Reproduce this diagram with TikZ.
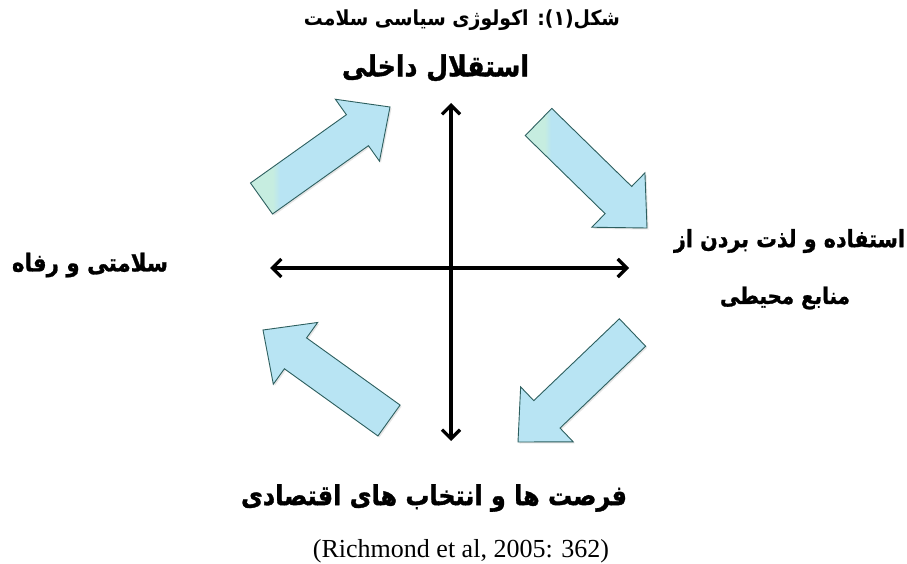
\documentclass[tikz,border=0pt]{standalone}
\usepackage{fontspec}
\usepackage{graphicx}
\setmainfont{Liberation Serif}
\newfontfamily\fa[Script=Arabic]{DejaVu Sans}
\newfontfamily\fab[Script=Arabic,BoldFeatures={FakeBold=1.2}]{DejaVu Sans}
\TeXXeTstate=1
\usetikzlibrary{arrows.meta,calc}
\definecolor{arrfill}{RGB}{184,228,243}
\definecolor{arrmint}{RGB}{198,237,224}
\definecolor{arredge}{RGB}{45,95,95}
\pgfdeclarehorizontalshading{arrshade}{100bp}{color(0bp)=(arrmint); color(33bp)=(arrmint); color(35.5bp)=(arrfill); color(100bp)=(arrfill)}
\newcommand\blockarrow[4]{% style, name, tail, tip
  \coordinate (#2t) at (#3);
  \coordinate (#2p) at (#4);
  \coordinate (#2b) at ($(#2p)!40pt!(#2t)$);
  \fill[black!10] ([shift={(1.5,1.5)}]$(#2t)!19pt!-90:(#2p)$) -- ([shift={(1.5,1.5)}]$(#2b)!19pt!-90:(#2p)$) -- ([shift={(1.5,1.5)}]$(#2b)!38pt!-90:(#2p)$)
    -- ([shift={(1.5,1.5)}]#2p) -- ([shift={(1.5,1.5)}]$(#2b)!38pt!90:(#2p)$) -- ([shift={(1.5,1.5)}]$(#2b)!19pt!90:(#2p)$) -- ([shift={(1.5,1.5)}]$(#2t)!19pt!90:(#2p)$) -- cycle;
  \draw[#1] ($(#2t)!19pt!-90:(#2p)$) -- ($(#2b)!19pt!-90:(#2p)$) -- ($(#2b)!38pt!-90:(#2p)$)
    -- (#2p) -- ($(#2b)!38pt!90:(#2p)$) -- ($(#2b)!19pt!90:(#2p)$) -- ($(#2t)!19pt!90:(#2p)$) -- cycle;
}
\begin{document}
\begin{tikzpicture}[x=1pt,y=-1pt,
  axis/.style={line width=3.2pt, line cap=butt, {Straight Barb[length=9pt,width=18pt]}-{Straight Barb[length=9pt,width=18pt]}},
  lbl/.style={inner sep=0pt},
  blk/.style={draw=arredge, line width=0.9pt, line join=miter, fill=arrfill},
  blkshade/.style={draw=arredge, line width=0.9pt, line join=miter, shade, shading=arrshade}
]
\useasboundingbox (0,0) rectangle (907,564);
\fill[white] (0,0) rectangle (907,564);

% block arrows
\blockarrow{blkshade}{ne}{261.5,198.5}{390,107}
\blockarrow{blkshade}{se}{538.5,122}{647,228}
\blockarrow{blk}{sw}{632.5,332.5}{518,442}
\blockarrow{blk}{nw}{389,420.5}{263,330}

% axes
\coordinate (vt) at (451,103);
\coordinate (vb) at (451,441);
\coordinate (hl) at (270,268);
\coordinate (hr) at (629,268);
\draw[axis] (vb) -- (vt);
\draw[axis] (hl) -- (hr);

% labels
\node[lbl] (title) at (462,20) {\scalebox{1}[1.1]{\resizebox{316pt}{!}{\fa\bfseries\beginR شکل(۱): اکولوژی سیاسی سلامت\endR}}};
\node[lbl] (top) at (435.5,68) {\scalebox{1}[1.15]{\resizebox{187pt}{!}{\fab\bfseries\beginR استقلال داخلی\endR}}};
\node[lbl] (left) at (90,265) {\scalebox{1}[1.15]{\resizebox{156pt}{!}{\fab\bfseries\beginR سلامتی و رفاه\endR}}};
\node[lbl] (right1) at (789.5,241) {\scalebox{1}[1.15]{\resizebox{231pt}{!}{\fab\bfseries\beginR استفاده و لذت بردن از\endR}}};
\node[lbl] (right2) at (785,298) {\scalebox{1}[1.15]{\resizebox{130pt}{!}{\fab\bfseries\beginR منابع محیطی\endR}}};
\node[lbl] (bottom) at (434,498) {\scalebox{1}[1.15]{\resizebox{386pt}{!}{\fab\bfseries\beginR فرصت ها و انتخاب های اقتصادی\endR}}};
\node[lbl] (src) at (461,551) {\resizebox{296pt}{!}{(Richmond et al, 2005: 362)}};
\end{tikzpicture}
\end{document}
